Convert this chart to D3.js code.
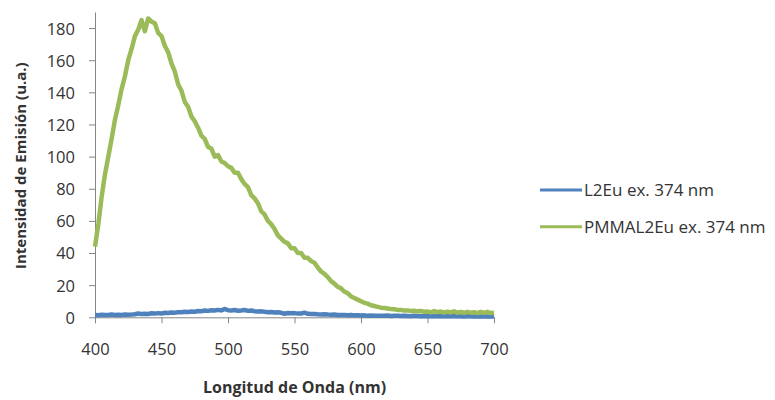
<!DOCTYPE html>
<html>
<head>
<meta charset="utf-8">
<script src="https://cdn.jsdelivr.net/npm/d3@7"></script>
<style>
  html, body { margin: 0; padding: 0; background: #fff; }
  svg { display: block; }
  text { font-family: "Open Sans", "DejaVu Sans", sans-serif; fill: #333; }
</style>
</head>
<body>
<div id="chart"></div>
<script>
// ---- data ----
const wavelengths = [
  400, 402.5, 405, 407.5, 410, 412.5, 415, 417.5, 420, 422.5,
  425, 427.5, 430, 432.5, 435, 437.5, 440, 442.5, 445, 447.5,
  450, 452.5, 455, 457.5, 460, 462.5, 465, 467.5, 470, 472.5,
  475, 477.5, 480, 482.5, 485, 487.5, 490, 492.5, 495, 497.5,
  500, 502.5, 505, 507.5, 510, 512.5, 515, 517.5, 520, 522.5,
  525, 527.5, 530, 532.5, 535, 537.5, 540, 542.5, 545, 547.5,
  550, 552.5, 555, 557.5, 560, 562.5, 565, 567.5, 570, 572.5,
  575, 577.5, 580, 582.5, 585, 587.5, 590, 592.5, 595, 597.5,
  600, 602.5, 605, 607.5, 610, 612.5, 615, 617.5, 620, 622.5,
  625, 627.5, 630, 632.5, 635, 637.5, 640, 642.5, 645, 647.5,
  650, 652.5, 655, 657.5, 660, 662.5, 665, 667.5, 670, 672.5,
  675, 677.5, 680, 682.5, 685, 687.5, 690, 692.5, 695, 697.5,
  700
];
const seriesNames = ["L2Eu ex. 374 nm", "PMMAL2Eu ex. 374 nm"];
const l2euValues = [
  1.5, 1.3, 1.6, 1.4, 1.5, 1.7, 1.4, 1.6, 1.5, 1.8,
  1.6, 1.7, 1.9, 2.4, 2.0, 2.2, 2.1, 2.5, 2.3, 2.6,
  2.4, 2.8, 2.7, 3.0, 2.9, 3.2, 3.1, 3.4, 3.3, 3.6,
  3.5, 3.9, 3.8, 4.2, 4.0, 4.4, 4.2, 4.6, 4.3, 5.2,
  4.4, 4.3, 4.5, 4.1, 4.3, 4.6, 4.0, 4.2, 3.8, 3.6,
  3.7, 3.4, 3.2, 3.3, 3.0, 3.1, 2.8, 2.2, 2.7, 2.5,
  2.6, 2.3, 2.4, 2.9, 2.2, 2.0, 2.1, 1.9, 1.8, 1.9,
  1.7, 1.6, 1.7, 1.5, 1.4, 1.5, 1.3, 1.4, 1.2, 1.3,
  1.1, 1.2, 1.0, 1.1, 0.9, 1.0, 1.0, 0.9, 1.1, 0.8,
  0.9, 1.0, 0.8, 0.9, 0.8, 0.7, 0.9, 0.8, 0.7, 0.8,
  0.7, 0.8, 0.7, 0.6, 0.8, 0.7, 0.6, 0.7, 0.6, 0.7,
  0.6, 0.5, 0.7, 0.6, 0.5, 0.6, 0.5, 0.6, 0.5, 0.6,
  0.5
];
const pmmaValues = [
  44, 58, 75, 89, 100, 111, 123, 132, 142, 150,
  160, 167, 175, 179, 185, 178, 186, 184, 183, 177,
  175, 169, 165, 158, 153, 145, 141, 134, 131, 125,
  122, 118, 113, 111, 106, 105, 100, 101, 97, 96,
  94, 93, 90, 90, 86, 83, 81, 76, 74, 71,
  66, 64, 60, 58, 55, 51, 49, 47, 46, 43,
  43, 40, 40, 37, 37, 35, 34, 31, 28.5, 27,
  25, 22.5, 21, 19, 18, 16, 15, 13, 12, 11,
  10, 9, 8.5, 7.5, 7, 6.5, 6, 5.8, 5.5, 5.2,
  5, 4.6, 4.6, 4.2, 4.3, 3.9, 4.1, 3.7, 3.9, 3.5,
  3.6, 3.1, 3.9, 3.2, 3.6, 2.9, 3.5, 3.0, 3.7, 2.8,
  3.3, 2.7, 3.4, 2.9, 3.2, 2.6, 3.3, 2.8, 3.4, 2.6,
  3.0
];
const xTicks = [400, 450, 500, 550, 600, 650, 700];
const yTicks = [0, 20, 40, 60, 80, 100, 120, 140, 160, 180];
const xDomain = [400, 700];
const yDomain = [0, 190];
const colors = ["#4F81BD", "#9BBB59"];
const xTitle = "Longitud de Onda (nm)";
const yTitle = "Intensidad de Emisión (u.a.)";

// ---- drawing ----
const W = 775, H = 400;
const plot = { left: 95, right: 494, top: 12, bottom: 317.3 };

const svg = d3.select("#chart").append("svg").attr("width", W).attr("height", H);

const x = d3.scaleLinear().domain(xDomain).range([plot.left, plot.right]);
const y = d3.scaleLinear().domain(yDomain).range([plot.bottom, plot.top]);

const axisColor = "#868686";

// y axis
const gy = svg.append("g").attr("transform", `translate(${plot.left},0)`)
  .call(d3.axisLeft(y).tickValues(yTicks).tickSize(6).tickSizeOuter(0).tickPadding(14));
gy.select(".domain").attr("stroke", axisColor);
gy.selectAll(".tick line").attr("stroke", axisColor);
gy.selectAll(".tick text").style("font-size", "16.5px").attr("fill", "#333").attr("dy", "0.36em");

// x axis
const gx = svg.append("g").attr("transform", `translate(0,${plot.bottom})`)
  .call(d3.axisBottom(x).tickValues(xTicks).tickSize(6).tickSizeOuter(0).tickPadding(20));
gx.select(".domain").attr("stroke", axisColor);
gx.selectAll(".tick line").attr("stroke", axisColor);
gx.selectAll(".tick text").style("font-size", "16.5px").attr("fill", "#333");

// lines
const series = [l2euValues, pmmaValues];
const line = d3.line().x((d, i) => x(wavelengths[i])).y(d => y(d));
series.forEach((vals, k) => {
  svg.append("path")
    .datum(vals)
    .attr("fill", "none")
    .attr("stroke", colors[k])
    .attr("stroke-width", 4.5)
    .attr("stroke-linejoin", "round")
    .attr("stroke-linecap", "butt")
    .attr("d", line);
});

// axis titles
svg.append("text")
  .attr("x", (plot.left + plot.right) / 2)
  .attr("y", 393)
  .attr("text-anchor", "middle")
  .style("font-size", "16px")
  .style("font-weight", "bold")
  .text(xTitle);

svg.append("text")
  .attr("transform", `translate(26,${(plot.top + plot.bottom) / 2 + 1}) rotate(-90)`)
  .attr("text-anchor", "middle")
  .style("font-size", "15px")
  .style("font-weight", "bold")
  .text(yTitle);

// legend
const legend = svg.append("g");
seriesNames.forEach((name, k) => {
  const ly = 190 + k * 36.7;
  legend.append("line")
    .attr("x1", 540).attr("x2", 582)
    .attr("y1", ly).attr("y2", ly)
    .attr("stroke", colors[k]).attr("stroke-width", 3);
  legend.append("text")
    .attr("x", 584).attr("y", ly)
    .attr("dy", "0.35em")
    .style("font-size", "17px")
    .text(name);
});
</script>
</body>
</html>
